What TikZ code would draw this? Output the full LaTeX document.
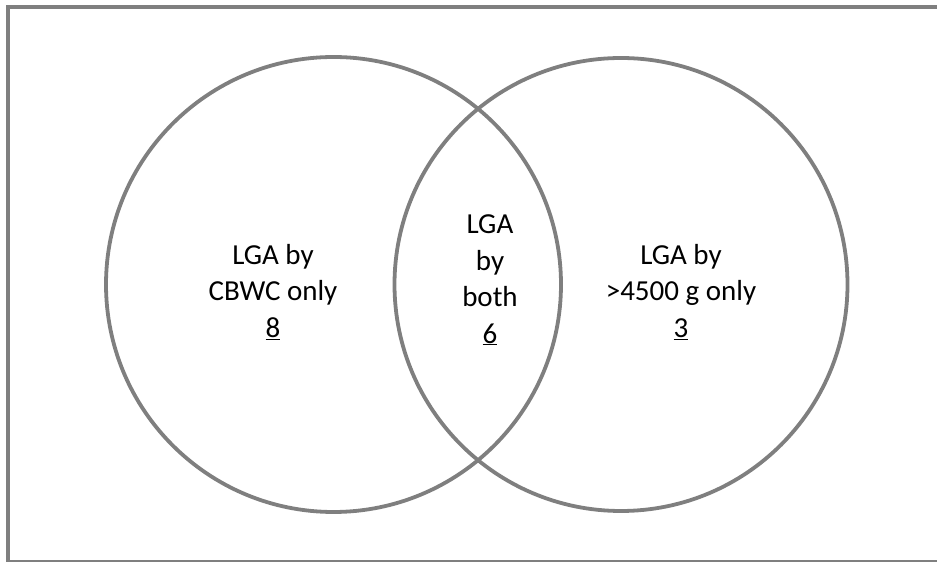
\documentclass[tikz,border=0pt]{standalone}
\usepackage{fontspec}
\setmainfont{Carlito}
\begin{document}
\begin{tikzpicture}[x=1pt,y=1pt,
  ring/.style={draw=ringgray,line width=3.8pt},
  frame/.style={draw=ringgray},
  label/.style={align=center,font=\fontsize{29}{36.5}\selectfont,inner sep=0pt}]
\definecolor{ringgray}{HTML}{7F7F7F}
\useasboundingbox (0,0) rectangle (937,562);
% outer frame: heavy top and left edges, thin bottom edge
\coordinate (tl) at (8,555);
\coordinate (tr) at (937,555);
\coordinate (bl) at (8,0);
\coordinate (br) at (937,1);
\draw[frame,line width=4pt] (6,555) -- (tr);
\draw[frame,line width=4pt] (tl) -- (bl);
\draw[frame,line width=1.5pt] (8,1) -- (br);
% the two sets
\node[ring,circle,minimum size=455pt,inner sep=0pt] (cbwc) at (333.5,277.5) {};
\node[ring,circle,minimum size=453pt,inner sep=0pt] (heavy) at (621,277.5) {};
% region labels
\node[label] (only1) at (273,270) {LGA by\\CBWC only\\\underline{8}};
\node[label] (both) at (490,282) {LGA\\by\\both\\\underline{6}};
\node[label] (only2) at (681,270) {LGA by\\>4500 g only\\\underline{3}};
\end{tikzpicture}
\end{document}
